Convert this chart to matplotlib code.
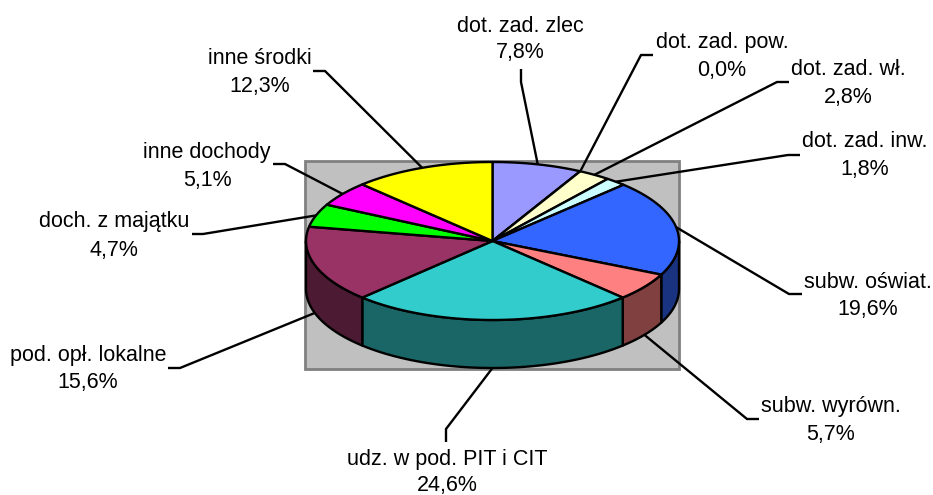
import numpy as np
import matplotlib
matplotlib.use("Agg")
import matplotlib.pyplot as plt
from matplotlib.patches import Polygon, Rectangle

plt.rcParams["font.family"] = ["Liberation Sans", "DejaVu Sans"]

names = ["dot. zad. zlec", "dot. zad. pow.", "dot. zad. wł.", "dot. zad. inw.",
         "subw. oświat.", "subw. wyrówn.", "udz. w pod. PIT i CIT",
         "pod. opł. lokalne", "doch. z majątku", "inne dochody", "inne środki"]
values = [7.8, 0.0, 2.8, 1.8, 19.6, 5.7, 24.6, 15.6, 4.7, 5.1, 12.3]
colors = ["#9999FF", "#FFFFCC", "#FFFFCC", "#CCFFFF", "#3366FF", "#FF8080",
          "#33CCCC", "#993366", "#00FF00", "#FF00FF", "#FFFF00"]
side_colors = ["#4D4D80", "#808066", "#808066", "#668080", "#1A3380", "#804040",
               "#1A6666", "#4D1A33", "#008000", "#800080", "#808000"]

# label layout in pixels: text centre, baselines of name and value, leader elbow and end
label_x = [520.5, 722, 848, 865, 868, 831, 447, 88, 114, 207, 259.5]
name_y = [32, 48, 75, 147, 288, 412, 465, 361, 227, 158, 64]
value_y = [58, 76, 103, 175, 315, 440, 491, 388, 256, 186, 92]
elbow = [(521, 82), (641, 55), (777, 82), (788, 155), (789, 294), (747, 419),
         (446, 429), (180, 368), (203, 234), (285, 164), (325, 71)]
leader_end = [(521, 69), (653, 55), (789, 82), (800, 155), (802, 294), (759, 419),
              (446, 442), (168, 368), (192, 234), (273, 164), (313, 71)]

cx, cy, rx, ry, depth = 492.5, 241, 186.5, 79, 48
lw = 1.7


def rim(theta):
    return cx + rx * np.sin(theta), cy - ry * np.cos(theta)


fig = plt.figure(figsize=(9.33, 4.95), dpi=100)
ax = fig.add_axes([0, 0, 1, 1])
ax.set_xlim(0, 933)
ax.set_ylim(495, 0)
ax.axis("off")

ax.add_patch(Rectangle((304.8, 161), 374, 207.5, fc="#C0C0C0", ec="#808080", lw=2))

edges = np.radians(np.cumsum([0] + values) * 3.6)

# side wall, only the front half of the pie shows
for i in range(len(values)):
    t0 = max(edges[i], np.pi / 2)
    t1 = min(edges[i + 1], 3 * np.pi / 2)
    if t1 <= t0:
        continue
    t = np.linspace(t0, t1, 60)
    x, y = rim(t)
    pts = np.r_[np.c_[x, y], np.c_[x, y + depth][::-1]]
    ax.add_patch(Polygon(pts, fc=side_colors[i], ec="black", lw=lw, joinstyle="round"))

# top face
for i in range(len(values)):
    t = np.linspace(edges[i], edges[i + 1], 60)
    x, y = rim(t)
    pts = np.r_[[[cx, cy]], np.c_[x, y]]
    ax.add_patch(Polygon(pts, fc=colors[i], ec="black", lw=lw, joinstyle="round"))

# leaders and labels
for i in range(len(values)):
    mid = (edges[i] + edges[i + 1]) / 2
    x, y = rim(mid)
    if np.cos(mid) < 0:
        y = y + depth
    ax.plot([x, elbow[i][0], leader_end[i][0]], [y, elbow[i][1], leader_end[i][1]],
            color="black", lw=lw, solid_capstyle="butt", zorder=3)
    ax.text(label_x[i], name_y[i], names[i], ha="center", va="baseline", fontsize=15.5)
    ax.text(label_x[i], value_y[i], f"{values[i]:.1f}%".replace(".", ","),
            ha="center", va="baseline", fontsize=15.5)

plt.savefig("out.png", dpi=100)
plt.close()
